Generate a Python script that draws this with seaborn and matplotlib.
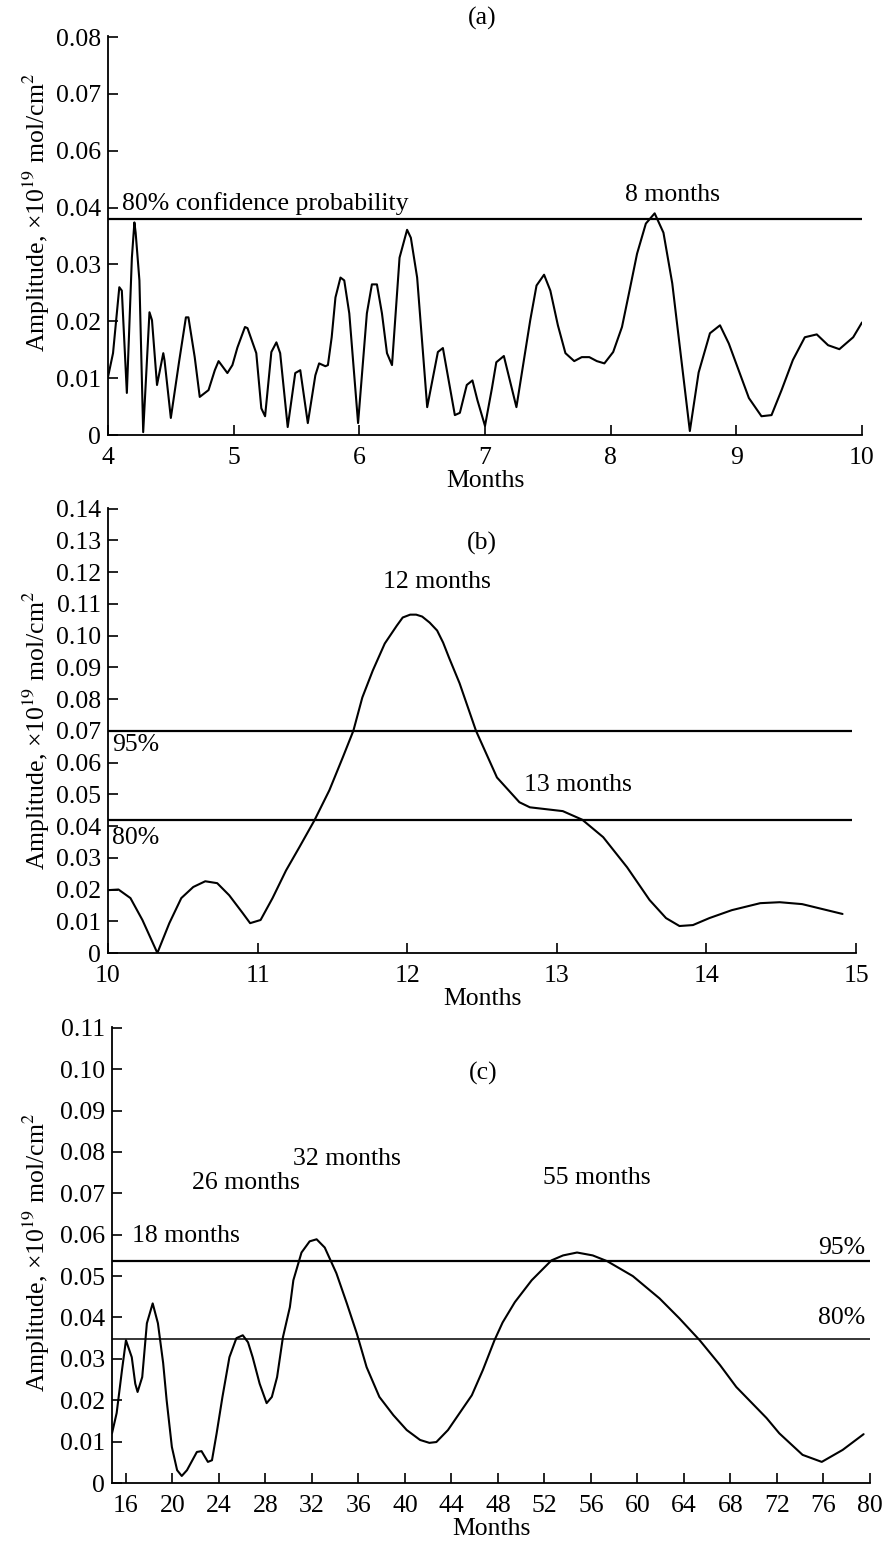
import numpy as np
import pandas as pd
import matplotlib
matplotlib.use("Agg")
import matplotlib.pyplot as plt
import seaborn as sns

# ---------------- data ----------------
# Panel (a)
a_months = [4.00, 4.04, 4.09, 4.11, 4.15, 4.19, 4.21, 4.22, 4.25, 4.28, 4.33, 4.35, 4.39, 4.44, 4.45,
            4.50, 4.565, 4.62, 4.64, 4.69, 4.73, 4.80, 4.85, 4.88, 4.95, 4.99, 5.03, 5.09, 5.11, 5.18,
            5.22, 5.25, 5.30, 5.34, 5.37, 5.43, 5.49, 5.53, 5.59, 5.65, 5.68, 5.73, 5.75, 5.78, 5.81,
            5.85, 5.88, 5.92, 5.99, 6.06, 6.10, 6.14, 6.18, 6.22, 6.26, 6.32, 6.38, 6.41, 6.46, 6.54,
            6.625, 6.665, 6.76, 6.80, 6.855, 6.90, 6.94, 7.00, 7.055, 7.09, 7.15, 7.25, 7.36, 7.41,
            7.47, 7.52, 7.58, 7.64, 7.71, 7.77, 7.83, 7.89, 7.95, 8.02, 8.09, 8.15, 8.21, 8.28, 8.35,
            8.42, 8.49, 8.63, 8.70, 8.79, 8.87, 8.94, 9.10, 9.20, 9.28, 9.36, 9.45, 9.545, 9.64, 9.73,
            9.82, 9.93, 10.00]
a_amp = [0.0102, 0.0144, 0.0260, 0.0254, 0.0074, 0.0312, 0.0374, 0.0356, 0.0272, 0.0005, 0.0216,
         0.0202, 0.0088, 0.0144, 0.0131, 0.0030, 0.0128, 0.0207, 0.0207, 0.0137, 0.0067, 0.0079,
         0.0114, 0.0130, 0.0109, 0.0123, 0.0154, 0.0190, 0.0188, 0.0144, 0.0047, 0.0033, 0.0146,
         0.0163, 0.0144, 0.0014, 0.0109, 0.0114, 0.0021, 0.0105, 0.0126, 0.0121, 0.0123, 0.0172,
         0.0242, 0.0277, 0.0272, 0.0214, 0.0021, 0.0214, 0.0265, 0.0265, 0.0214, 0.0144, 0.0123,
         0.0312, 0.0361, 0.0347, 0.0277, 0.0049, 0.0146, 0.0153, 0.0035, 0.0039, 0.0088, 0.0096,
         0.0061, 0.0016, 0.0082, 0.0128, 0.0139, 0.0049, 0.0202, 0.0263, 0.0282, 0.0254, 0.0193,
         0.0144, 0.0130, 0.0137, 0.0137, 0.0130, 0.0126, 0.0146, 0.0190, 0.0254, 0.0319, 0.0372,
         0.0390, 0.0356, 0.0267, 0.0007, 0.0110, 0.0179, 0.0193, 0.0161, 0.0065, 0.0033, 0.0035,
         0.0079, 0.0132, 0.0172, 0.0177, 0.0158, 0.0151, 0.0172, 0.0198]
a_levels = [0.038]
a_yticks = [0, 0.01, 0.02, 0.03, 0.04, 0.05, 0.06, 0.07]
a_yticklabels = ["0", "0.01", "0.02", "0.03", "0.04", "0.06", "0.07", "0.08"]
a_xticks = [4, 5, 6, 7, 8, 9, 10]

# Panel (b)
b_months = [10.00, 10.07, 10.15, 10.23, 10.33, 10.41, 10.49, 10.57, 10.65, 10.73, 10.81, 10.90,
            10.95, 11.02, 11.10, 11.19, 11.28, 11.38, 11.48, 11.57, 11.64, 11.70, 11.77, 11.85,
            11.93, 11.97, 12.02, 12.06, 12.10, 12.15, 12.20, 12.24, 12.28, 12.35, 12.46, 12.60,
            12.75, 12.82, 13.04, 13.17, 13.31, 13.47, 13.62, 13.73, 13.82, 13.91, 14.02, 14.17,
            14.36, 14.49, 14.64, 14.91]
b_amp = [0.0198, 0.0200, 0.0173, 0.0104, 0.0000, 0.0094, 0.0173, 0.0208, 0.0226, 0.0220, 0.0182,
         0.0126, 0.0094, 0.0104, 0.0173, 0.0260, 0.0334, 0.0418, 0.0513, 0.0617, 0.0700, 0.0805,
         0.0890, 0.0975, 0.1031, 0.1057, 0.1066, 0.1066, 0.1060, 0.1041, 0.1016, 0.0978, 0.0930,
         0.0850, 0.0700, 0.0553, 0.0475, 0.0459, 0.0447, 0.0420, 0.0365, 0.0270, 0.0167, 0.0110,
         0.0085, 0.0088, 0.0110, 0.0135, 0.0157, 0.0160, 0.0154, 0.0123]
b_levels = [0.070, 0.042]
b_yticks = [0, 0.01, 0.02, 0.03, 0.04, 0.05, 0.06, 0.07, 0.08, 0.09, 0.10, 0.11, 0.12, 0.13, 0.14]
b_xticks = [10, 11, 12, 13, 14, 15]

# Panel (c)
c_months = [14.8, 15.2, 15.66, 16.0, 16.5, 16.8, 17.0, 17.4, 17.8, 18.3, 18.75, 19.2, 19.5, 19.95,
            20.4, 20.8, 21.25, 22.1, 22.5, 23.05, 23.4, 23.8, 24.3, 24.9, 25.5, 26.05, 26.5, 26.9,
            27.5, 28.1, 28.55, 29.0, 29.5, 30.1, 30.4, 31.1, 31.8, 32.4, 33.1, 34.1, 35.0, 35.85,
            36.7, 37.8, 39.0, 40.15, 41.3, 42.1, 42.7, 43.7, 44.7, 45.75, 46.7, 47.7, 48.4, 49.45,
            50.9, 52.6, 53.6, 54.8, 56.15, 57.4, 59.6, 61.9, 63.6, 65.35, 67.1, 68.5, 71.1, 72.2,
            74.2, 75.85, 77.65, 79.45]
c_amp = [0.0120, 0.0169, 0.0273, 0.0345, 0.0304, 0.0240, 0.0220, 0.0256, 0.0386, 0.0434, 0.0386,
         0.0290, 0.0200, 0.0087, 0.0031, 0.0017, 0.0031, 0.0075, 0.0077, 0.0051, 0.0055, 0.0120,
         0.0208, 0.0304, 0.0350, 0.0357, 0.0340, 0.0304, 0.0240, 0.0193, 0.0208, 0.0256, 0.0352,
         0.0425, 0.0490, 0.0557, 0.0584, 0.0589, 0.0569, 0.0507, 0.0434, 0.0362, 0.0280, 0.0208,
         0.0164, 0.0128, 0.0104, 0.0097, 0.0099, 0.0128, 0.0169, 0.0212, 0.0273, 0.0345, 0.0388,
         0.0437, 0.0490, 0.0538, 0.0550, 0.0557, 0.0550, 0.0536, 0.0500, 0.0446, 0.0398, 0.0345,
         0.0285, 0.0232, 0.0157, 0.0120, 0.0068, 0.0051, 0.0080, 0.0118]
c_levels = [0.0536, 0.0347]
c_yticks = [0, 0.01, 0.02, 0.03, 0.04, 0.05, 0.06, 0.07, 0.08, 0.09, 0.10, 0.11]
c_xticks = [16, 20, 24, 28, 32, 36, 40, 44, 48, 52, 56, 60, 64, 68, 72, 76, 80]

# ---------------- style ----------------
sns.set_style("ticks")
plt.rcParams['font.family'] = ['Liberation Serif', 'DejaVu Serif']
plt.rcParams['mathtext.fontset'] = 'stix'
for k in ['text.color', 'axes.labelcolor', 'xtick.color', 'ytick.color', 'axes.edgecolor']:
    plt.rcParams[k] = 'black'
plt.rcParams['axes.linewidth'] = 1.3
plt.rcParams['xtick.direction'] = 'in'
plt.rcParams['ytick.direction'] = 'in'
plt.rcParams['xtick.major.size'] = 7
plt.rcParams['ytick.major.size'] = 7
plt.rcParams['xtick.major.width'] = 1.2
plt.rcParams['ytick.major.width'] = 1.2

FS = 18.5
W, H = 888, 1541
fig = plt.figure(figsize=(W / 100, H / 100), dpi=100)

def frac(left, right, top, bottom):
    return [left / W, 1 - bottom / H, (right - left) / W, (bottom - top) / H]

boxes = {
    'a': (108, 862, 36, 435),
    'b': (108, 856, 508, 953),
    'c': (112, 870, 1027, 1483),
}
ax_a = fig.add_axes(frac(*boxes['a']))
ax_b = fig.add_axes(frac(*boxes['b']))
ax_c = fig.add_axes(frac(*boxes['c']))

ylabel = "Amplitude, ×10$^{19}$ mol/cm$^2$"

def fmt(v):
    return "0" if v == 0 else f"{v:.2f}"

def style(ax, key, xlim, ylim, xticks, yticks, yticklabels, ylab_center_px):
    ax.set_xlim(*xlim)
    ax.set_ylim(*ylim)
    ax.set_xticks(xticks)
    ax.set_xticklabels([str(t) for t in xticks], fontsize=FS)
    ax.set_yticks(yticks)
    ax.set_yticklabels(yticklabels, fontsize=FS)
    sns.despine(ax=ax)
    ax.tick_params(axis='x', pad=8.5)
    ax.tick_params(axis='y', pad=5)
    ax.set_xlabel("Months", fontsize=FS)
    ax.set_ylabel(ylabel, fontsize=FS)
    l, r, t, b = boxes[key]
    ax.yaxis.set_label_coords((52 - l) / (r - l), (b - ylab_center_px) / (b - t))
    ax.xaxis.set_label_coords(0.5, -(35.0) / (b - t))

# Panel (a)
df_a = pd.DataFrame({"Months": a_months, "Amplitude": a_amp})
sns.lineplot(data=df_a, x="Months", y="Amplitude", ax=ax_a, color="black", lw=1.5)
ax_a.hlines(a_levels, 4, 10, color="black", lw=1.6)
style(ax_a, 'a', (4, 10), (0, 0.0702), a_xticks, a_yticks, a_yticklabels, 212)
ax_a.text(4.11, 0.0407, "80% confidence probability", fontsize=FS, ha="left", va="center")
ax_a.text(8.49, 0.0423, "8 months", fontsize=FS, ha="center", va="center")
ax_a.text(6.98, 0.0732, "(a)", fontsize=FS, ha="center", va="center", clip_on=False)

# Panel (b)
df_b = pd.DataFrame({"Months": b_months, "Amplitude": b_amp})
sns.lineplot(data=df_b, x="Months", y="Amplitude", ax=ax_b, color="black", lw=1.5)
ax_b.hlines(b_levels, 10, 14.97, color="black", lw=1.6)
style(ax_b, 'b', (10, 15), (0, 0.1402), b_xticks, b_yticks, [fmt(v) for v in b_yticks], 730)
ax_b.text(12.5, 0.129, "(b)", fontsize=FS, ha="center", va="center")
ax_b.text(12.2, 0.117, "12 months", fontsize=FS, ha="center", va="center")
ax_b.text(13.14, 0.0528, "13 months", fontsize=FS, ha="center", va="center")
ax_b.text(10.03, 0.0654, "95%", fontsize=FS, ha="left", va="center")
ax_b.text(10.03, 0.0362, "80%", fontsize=FS, ha="left", va="center")

# Panel (c)
df_c = pd.DataFrame({"Months": c_months, "Amplitude": c_amp})
sns.lineplot(data=df_c, x="Months", y="Amplitude", ax=ax_c, color="black", lw=1.5)
ax_c.hlines(c_levels[0], 14.8, 80, color="black", lw=1.6)
ax_c.hlines(c_levels[1], 14.8, 80, color="black", lw=1.1)
style(ax_c, 'c', (14.8, 80), (0, 0.1102), c_xticks, c_yticks, [fmt(v) for v in c_yticks], 1252)
ax_c.text(46.7, 0.0989, "(c)", fontsize=FS, ha="center", va="center")
ax_c.text(21.2, 0.0598, "18 months", fontsize=FS, ha="center", va="center")
ax_c.text(26.3, 0.0724, "26 months", fontsize=FS, ha="center", va="center")
ax_c.text(35.0, 0.0784, "32 months", fontsize=FS, ha="center", va="center")
ax_c.text(56.5, 0.0736, "55 months", fontsize=FS, ha="center", va="center")
ax_c.text(79.6, 0.0569, "95%", fontsize=FS, ha="right", va="center")
ax_c.text(79.6, 0.0398, "80%", fontsize=FS, ha="right", va="center")

fig.savefig("out.png", dpi=100)
